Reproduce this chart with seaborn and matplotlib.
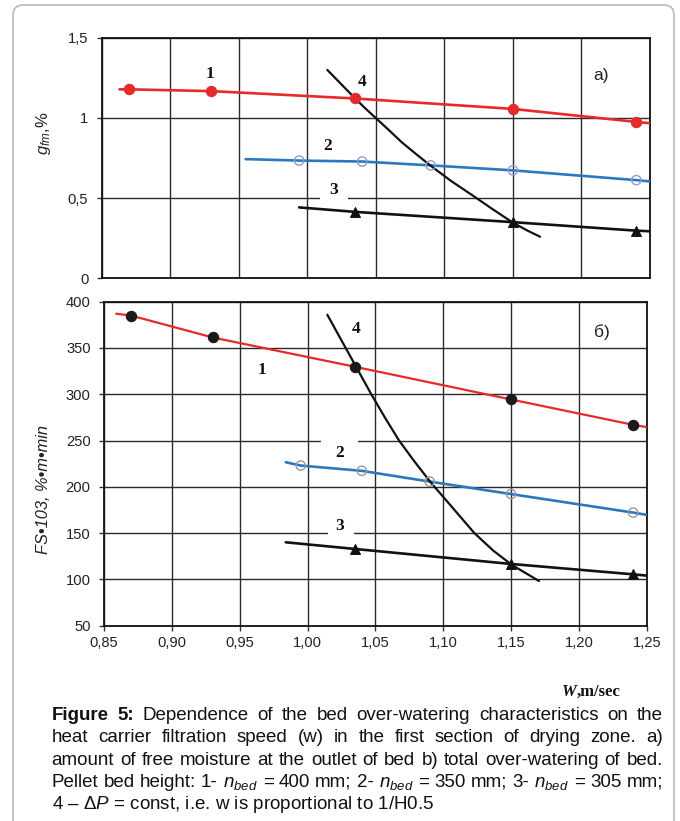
import matplotlib
matplotlib.use("Agg")
import matplotlib.pyplot as plt
import seaborn as sns
from matplotlib.patches import FancyBboxPatch, Rectangle
from matplotlib.transforms import IdentityTransform

# ---------------- data ----------------
x_ticks = [0.85, 0.90, 0.95, 1.00, 1.05, 1.10, 1.15, 1.20, 1.25]
x_tick_labels = ["0,85", "0,90", "0,95", "1,00", "1,05", "1,10", "1,15", "1,20", "1,25"]
a_yticks = [0, 0.5, 1, 1.5]
a_ytick_labels = ["0", "0,5", "1", "1,5"]
b_yticks = [50, 100, 150, 200, 250, 300, 350, 400]
b_ytick_labels = ["50", "100", "150", "200", "250", "300", "350", "400"]

# panel a) g_fm, %
a1_line_x = [0.863, 0.870, 0.930, 1.035, 1.150, 1.240, 1.250]
a1_line_y = [1.178, 1.178, 1.167, 1.121, 1.056, 0.975, 0.967]
a1_pts_x = [0.870, 0.930, 1.035, 1.150, 1.240]
a1_pts_y = [1.178, 1.167, 1.121, 1.056, 0.975]
a2_line_x = [0.955, 0.994, 1.040, 1.090, 1.150, 1.240, 1.250]
a2_line_y = [0.743, 0.734, 0.728, 0.704, 0.673, 0.612, 0.604]
a2_pts_x = [0.994, 1.040, 1.090, 1.150, 1.240]
a2_pts_y = [0.734, 0.728, 0.704, 0.673, 0.612]
a3_line_x = [0.994, 1.035, 1.150, 1.240, 1.250]
a3_line_y = [0.442, 0.414, 0.350, 0.297, 0.293]
a3_pts_x = [1.035, 1.150, 1.240]
a3_pts_y = [0.414, 0.350, 0.297]
a4_x = [1.0146, 1.025, 1.0348, 1.042, 1.0501, 1.060, 1.0689, 1.079, 1.0895,
        1.105, 1.120, 1.135, 1.1498, 1.160, 1.1698]
a4_y = [1.299, 1.208, 1.122, 1.062, 0.998, 0.920, 0.848, 0.777, 0.705,
        0.606, 0.520, 0.432, 0.348, 0.300, 0.259]

# panel b) FS*103, %*m*min
b1_line_x = [0.859, 0.870, 0.930, 1.035, 1.150, 1.240, 1.250]
b1_line_y = [387.0, 385.0, 361.4, 329.7, 294.4, 267.0, 264.5]
b1_pts_x = [0.870, 0.930, 1.035, 1.150, 1.240]
b1_pts_y = [385.0, 361.4, 329.7, 294.4, 267.0]
b2_line_x = [0.984, 0.995, 1.040, 1.090, 1.150, 1.240, 1.250]
b2_line_y = [226.6, 223.0, 217.3, 205.7, 192.2, 172.2, 169.7]
b2_pts_x = [0.995, 1.040, 1.090, 1.150, 1.240]
b2_pts_y = [223.0, 217.3, 205.7, 192.2, 172.2]
b3_line_x = [0.984, 1.035, 1.150, 1.240, 1.250]
b3_line_y = [140.1, 132.9, 116.7, 105.5, 104.1]
b3_pts_x = [1.035, 1.150, 1.240]
b3_pts_y = [132.9, 116.7, 105.5]
b4_x = [1.0146, 1.025, 1.0357, 1.047, 1.057, 1.0675, 1.078, 1.0903, 1.106,
        1.123, 1.137, 1.1507, 1.1706]
b4_y = [385.9, 358.3, 330.0, 300.0, 275.0, 250.0, 229.0, 205.7, 179.0,
        150.0, 131.0, 115.6, 98.3]

# ---------------- style ----------------
sns.set_theme(style="white")
plt.rcParams["font.family"] = ["Liberation Sans", "DejaVu Sans"]
plt.rcParams["mathtext.fontset"] = "custom"
plt.rcParams["mathtext.it"] = "Liberation Sans:italic"
plt.rcParams["mathtext.rm"] = "Liberation Sans"
plt.rcParams["mathtext.bf"] = "Liberation Sans:bold"

RED = "#e6292b"
BLUE = "#2c78be"
GRID = "#2a2a2a"
TXT = "#222222"
TICK_FS = 10.6

W, H = 680, 821
fig = plt.figure(figsize=(W / 100, H / 100), dpi=100)
fig.patch.set_facecolor("white")

def ax_rect(l, t, r, b):
    return [l / W, 1 - b / H, (r - l) / W, (b - t) / H]

ax_a = fig.add_axes(ax_rect(101.7, 37.7, 650.0, 278.3))
ax_b = fig.add_axes(ax_rect(104.0, 301.7, 646.7, 625.7))

for ax in (ax_a, ax_b):
    ax.set_facecolor("white")
    ax.set_xlim(0.85, 1.25)
    ax.set_xticks(x_ticks)
    ax.grid(True, color=GRID, lw=1.0)
    ax.set_axisbelow(True)
    for s in ax.spines.values():
        s.set_color("#111111")
        s.set_linewidth(1.3)
    ax.tick_params(axis="y", length=3.6, width=1, color="#333333", pad=6.0,
                   labelsize=TICK_FS, labelcolor=TXT, left=True)
    ax.set_xlabel("")
    ax.set_ylabel("")

ax_a.set_ylim(0, 1.5)
ax_a.set_yticks(a_yticks)
ax_a.set_yticklabels(a_ytick_labels)
ax_a.tick_params(axis="x", length=0, labelbottom=False)

ax_b.set_ylim(50, 400)
ax_b.set_yticks(b_yticks)
ax_b.set_yticklabels(b_ytick_labels)
ax_b.set_xticklabels(x_tick_labels)
ax_b.tick_params(axis="x", length=3.6, width=1, color="#333333", pad=4.0,
                 labelsize=TICK_FS, labelcolor=TXT, bottom=True)

def line(ax, x, y, color, lw):
    sns.lineplot(x=x, y=y, ax=ax, color=color, lw=lw, sort=False,
                 estimator=None, zorder=3)

def pts(ax, x, y, marker, s, fc, ec, lw=0.8):
    sns.scatterplot(x=x, y=y, ax=ax, marker=marker, s=s, color=fc,
                    edgecolor=ec, linewidth=lw, zorder=4)

# white gaps in grid lines behind labels
ax_a.add_patch(Rectangle((1.0096, 0.47), 0.0201, 0.06, fc="white", ec="none", zorder=1))
ax_b.add_patch(Rectangle((1.0097, 245), 0.0277, 10, fc="white", ec="none", zorder=1))
ax_b.add_patch(Rectangle((1.0149, 145), 0.0194, 10, fc="white", ec="none", zorder=1))

# panel a
line(ax_a, a1_line_x, a1_line_y, RED, 1.9)
line(ax_a, a2_line_x, a2_line_y, BLUE, 1.9)
line(ax_a, a3_line_x, a3_line_y, "#111111", 1.9)
line(ax_a, a4_x, a4_y, "#111111", 1.6)
pts(ax_a, a1_pts_x, a1_pts_y, "o", 55, RED, RED)
pts(ax_a, a2_pts_x, a2_pts_y, "o", 45, "none", "#8e9ccf", 1.0)
pts(ax_a, a3_pts_x, a3_pts_y, "^", 50, "#111111", "#111111")

# panel b
line(ax_b, b1_line_x, b1_line_y, RED, 1.6)
line(ax_b, b2_line_x, b2_line_y, BLUE, 1.9)
line(ax_b, b3_line_x, b3_line_y, "#111111", 1.9)
line(ax_b, b4_x, b4_y, "#111111", 1.6)
pts(ax_b, b1_pts_x, b1_pts_y, "o", 55, "#1a1a1a", "#1a1a1a")
pts(ax_b, b2_pts_x, b2_pts_y, "o", 45, "none", "#9a9a9a", 1.0)
pts(ax_b, b3_pts_x, b3_pts_y, "^", 50, "#111111", "#111111")

for ax in (ax_a, ax_b):
    if ax.get_legend() is not None:
        ax.get_legend().remove()

# curve number labels
lab = dict(family=["Liberation Serif", "DejaVu Serif"], weight="bold",
           fontsize=12.5, ha="center", va="center", color="#111111", zorder=6)
ax_a.text(0.929, 1.276, "1", **lab)
ax_a.text(1.040, 1.226, "4", **lab)
ax_a.text(1.015, 0.822, "2", **lab)
ax_a.text(1.019, 0.550, "3", **lab)
ax_b.text(0.9665, 326.5, "1", **lab)
ax_b.text(1.0361, 370.4, "4", **lab)
ax_b.text(1.0234, 236.4, "2", **lab)
ax_b.text(1.0240, 157.8, "3", **lab)
ax_a.text(1.214, 1.267, "a)", fontsize=12.5, ha="center", va="center", color=TXT)
ax_b.text(1.217, 367.2, "б)", fontsize=12.5, ha="center", va="center", color=TXT)

# y labels
fig.text(43.5 / W, 1 - 133 / H, r"$g_{fm}$,%", rotation=90, ha="center",
         va="center", fontsize=12, color=TXT)
fig.text(43.0 / W, 1 - 490 / H, "FS•103, %•m•min", rotation=90, ha="center",
         va="center", fontsize=11.8, style="italic", color=TXT)

# x label  W,m/sec
fig.canvas.draw()
r = fig.canvas.get_renderer()
serif = ["Liberation Serif", "DejaVu Serif"]
t1 = fig.text(561.7 / W, 1 - 696 / H, "W", family=serif, weight="bold",
              style="italic", fontsize=12, va="baseline", ha="left", color="#111111")
w1 = t1.get_window_extent(r).width
fig.text((561.7 + w1) / W, 1 - 696 / H, ",m/sec", family=serif, weight="bold",
         fontsize=12, va="baseline", ha="left", color="#111111")

# caption, justified
cap_lines = [
    "**Figure **5: Dependence of the bed over-watering characteristics on the",
    "heat carrier filtration speed (w) in the first section of drying zone. a)",
    "amount of free moisture at the outlet of bed b) total over-watering of bed.",
    "Pellet bed height: 1- $n_{bed}$ = 400 mm; 2- $n_{bed}$ = 350 mm; 3- $n_{bed}$ = 305 mm;",
]
last_line = r"4 – Δ$P$ = const, i.e. w is proportional to 1/H0.5"
baselines = [720.3, 742.4, 764.5, 786.6, 808.7]
x_left, x_right = 51.7, 662.7

# choose a font size so that the densest line fills the text width naturally
probe = fig.text(0, 0, cap_lines[2], fontsize=10)
pw = probe.get_window_extent(r).width
probe.remove()
cap_fs = 10 * (x_right - x_left - 4) / pw

for li, text in enumerate(cap_lines):
    toks = text.split(" ")
    objs = []
    for tk in toks:
        bold = tk.startswith("**")
        tk = tk.replace("**", "")
        o = fig.text(0, 1 - baselines[li] / H, tk, fontsize=cap_fs, va="baseline",
                     ha="left", color="#111111", weight="bold" if bold else "normal")
        objs.append(o)
    ws = [o.get_window_extent(r).width for o in objs]
    gap = (x_right - x_left - sum(ws)) / (len(objs) - 1)
    xc = x_left
    for o, w in zip(objs, ws):
        o.set_x(xc / W)
        xc += w + gap
fig.text(x_left / W, 1 - baselines[4] / H, last_line, fontsize=cap_fs,
         va="baseline", ha="left", color="#111111")

# outer rounded frame
frame = FancyBboxPatch((13, -30), 661, H - 5 + 30, boxstyle="round,pad=0,rounding_size=10",
                       transform=IdentityTransform(), fc="none", ec="#b3b3b3", lw=1.1)
fig.patches.append(frame)

fig.savefig("out.png", dpi=100)
